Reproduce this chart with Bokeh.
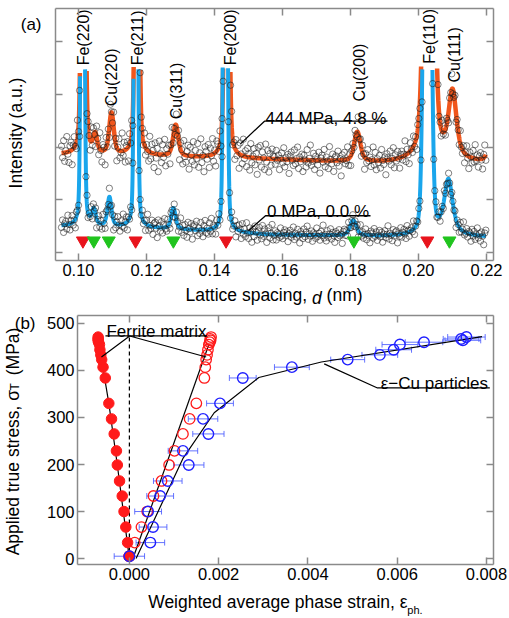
import numpy as np
from bokeh.plotting import figure
from bokeh.models import (LinearAxis, Range1d, FixedTicker, PrintfTickFormatter,
                          Label, ColumnDataSource, Whisker, TeeHead)
from bokeh.embed import file_html
from bokeh.resources import INLINE
from bokeh.core.properties import value

# ======================= DATA : panel (a) =======================
a_xticks = [0.10, 0.12, 0.14, 0.16, 0.18, 0.20, 0.22]
a_yticks = [0, 1, 2, 3, 4]
d_first, d_last = 0.0950, 0.2198          # measured d-range

bg_knot_d = [0.094, 0.115, 0.140, 0.155, 0.190, 0.222]
bg_0MPa   = [0.50, 0.48, 0.40, 0.34, 0.31, 0.29]
bg_444MPa = [1.86, 1.84, 1.79, 1.77, 1.70, 1.70]

# pseudo-Voigt peak parameters of the fitted profiles
pk_c_0   = [0.1012, 0.1045, 0.1091, 0.1169, 0.1279, 0.1432, 0.1808, 0.2026, 0.2088]
pk_h_0   = [16.0, 0.29, 0.55, 16.0, 0.40, 16.0, 0.29, 16.0, 1.05]
pk_f_0   = [0.0009, 0.0014, 0.0014, 0.0009, 0.0016, 0.0010, 0.0022, 0.0019, 0.0030]
pk_eta_0 = [0.2, 0.5, 0.5, 0.2, 0.5, 0.2, 0.5, 0.15, 0.8]

pk_c_444   = [0.1014, 0.1049, 0.1097, 0.1172, 0.1286, 0.1436, 0.1820, 0.2031, 0.2100, 0.2212]
pk_h_444   = [16.0, 0.34, 0.78, 16.0, 0.60, 16.0, 0.56, 16.0, 1.27, 0.40]
pk_f_444   = [0.0010, 0.0014, 0.0016, 0.0010, 0.0018, 0.0011, 0.0022, 0.0024, 0.0028, 0.0020]
pk_eta_444 = [0.25, 0.5, 0.5, 0.25, 0.5, 0.25, 0.5, 0.3, 0.7, 0.5]

# residuals of the measured points from the fits (units of 0.01 a.u.)
res_444 = [12, -8, 21, -15, 3, 27, -4, -19, 9, 14, -26, 6, 18, -2, -11, 30, -7, 4, -22, 16,
           -5, 23, -13, 8, -29, 11, 2, -17, 25, -9, 15, -3, -24, 19, 7, -14, 28, -1, -20, 10,
           5, -27, 17, -6, 13, -18, 22, 1, -10, 26, -16, 9, -23, 4, 20, -12, -3, 31, -8, 14,
           -21, 6, 11, -25, 18, -4, 24, -15, 2, -9, 29, -19, 7, 16, -28, 3, 12, -6, 21, -13,
           8, -2, -17, 27, -11, 15, 5, -24, 19, -7, 10, -30, 23, 1, -14, 17, -5, 26, -20, 9,
           -1, 13, -22, 6, 28, -10, 3, -16, 20, -8, 14, -26, 11, 4, -18, 24, -3, -12, 7, 18,
           -23, 15, 2, -9, 25, -15, 10, -4, 22, -19, 6, 30, -11, 1, -27, 16, 8, -6, 19, -21,
           12, -2, 27, -13, 5, -24, 17, 9, -8, 21, -16, 3, -29, 14, 11, -5, 23, -18, 7, -1,
           26, -10, 4, -20, 18, -7, 13, -25, 20, 2, -14, 29, -4, 10, -17, 15, 6, -22, 24, -9,
           3, 16, -12, 8, -28, 19, -3, 22, -15, 11, 1, -19, 25, -6, 14, -23, 9, -11, 17, 5,
           4, -9, 15, -2, 7, -18, 1, 11, -6, 20, -13, 3, -4, 9, -24, 6, 13, -1, -10, 17,
           -7, 2, 22, -15, 5, -3, 10, -20, 8, 0, -12, 18, -5, 3, 26, -9, -2, 12, -16, 7,
           1, -8, 14, -22, 4, 9, -3, 19, -11, 6, -1, -14, 24, 2, -6, 11, -19, 5, 8, -4,
           16, -10, 3, -27, 9, 1, 13, -7, -2, 21, -12, 6, -17, 4, 10, -5, 15, -1, -9, 28,
           -3, 7, -14, 12, 2, -21, 8, -6, 17, -2, 5, -11, 1, 23, -8, 14, -16, 3, -4, 9,
           -13, 19, 0, -7, 6, -25, 11, 4, -2, 15, -9, 2, 20, -15, 7, -4, 12, -1, -18, 5,
           10, -6, 3, 25, -12, 8, -3, -20, 14, 1, -8, 17, -5, 6, -23, 9, 2, -11, 13, -2,
           -6, 18, -14, 4, 7, -1, -16, 22, -9, 3, 11, -4, -26, 8, 15, -7, 1, -13, 19, -3,
           5, -10, 12, -2, -19, 9, 4, 27, -8, -5, 14, -15, 6, 2, -12, 21, -1, -7, 10, -17,
           3, 16, -4, -21, 8, 1, -9, 13, -6, 24, -3, 7, -14, 5, 11, -2, -18, 6, 20, -10]
res_0 = [-6, 14, -20, 3, 9, -12, 25, -1, -17, 7, 19, -9, 2, -24, 12, 5, -14, 22, -4, 10,
         -19, 1, 16, -7, 28, -13, 6, -2, 20, -22, 11, -5, 15, -27, 4, 18, -10, 8, -15, 24,
         -3, -21, 13, 0, -8, 23, -16, 9, 3, -26, 17, -11, 6, 21, -1, -18, 10, -6, 27, -12,
         4, 15, -23, 8, -4, 19, -14, 2, 26, -9, -17, 12, 7, -25, 14, -2, 22, -8, 5, -19,
         11, 29, -13, 1, -6, 17, -21, 9, 13, -3, -28, 20, 4, -10, 16, -15, 7, 24, -5, -12,
         18, -1, -20, 10, 3, -24, 15, -8, 21, 6, -14, 1, 27, -11, 9, -18, 12, -4, -22, 19,
         2, -7, 16, -26, 8, 13, -3, 23, -16, 5, -10, 20, -1, -19, 11, 25, -9, 4, -13, 17,
         -6, 28, -15, 7, 1, -21, 14, -5, 19, -11, 3, -27, 22, 9, -2, 16, -17, 6, 12, -8,
         24, -14, 0, 18, -23, 10, -4, 15, 5, -20, 21, -7, 8, -12, 26, -1, -16, 13, 2, -25,
         11, -9, 20, 4, -18, 7, 17, -3, -13, 23, -6, 14, 1, -22, 9, 18, -10, 3, 27, -15,
         -3, 10, -15, 5, 1, -8, 18, -4, -11, 6, 13, -2, 8, -19, 3, 12, -7, 0, 21, -13,
         4, -6, 15, -1, -22, 9, 2, -10, 16, -5, 7, 24, -12, 3, -3, 11, -17, 6, 1, -9,
         19, -4, 5, -14, 10, -1, 27, -8, 2, -16, 12, -6, 3, 17, -11, 7, -2, -20, 9, 4,
         -7, 14, -3, 1, -24, 8, 13, -5, 6, -12, 20, -1, -9, 3, 15, -15, 5, -4, 10, -18,
         2, 23, -6, 7, -10, 1, 16, -13, 4, -2, -21, 11, 6, -8, 18, -3, 9, -14, 0, 13,
         -5, 8, -19, 3, 12, -7, 2, 25, -11, 5, -1, -16, 14, -4, 7, 10, -23, 1, -6, 17,
         -9, 4, 11, -2, -15, 19, 6, -12, 3, 8, -5, 22, -18, 1, 9, -3, 14, -10, 5, -26,
         7, 2, -8, 16, -1, -13, 10, 4, -20, 12, -4, 6, 18, -7, -2, 13, -16, 3, 8, -11,
         21, -5, 1, -9, 15, -3, -17, 9, 5, -1, 11, -22, 7, 2, -14, 17, -6, 4, 26, -8,
         -2, 12, -10, 6, 3, -19, 14, -4, 9, -12, 1, 20, -7, 5, -15, 10, -1, -24, 8, 16]

fe_marker_d = [0.1013, 0.1168, 0.1434, 0.2026]
cu_marker_d = [0.1045, 0.1089, 0.1279, 0.1810, 0.2091]

peak_labels  = ["Fe(220)", "Cu(220)", "Fe(211)", "Cu(311)", "Fe(200)", "Cu(200)", "Fe(110)", "Cu(111)"]
peak_label_d = [0.10156, 0.10980, 0.11735, 0.12868, 0.14462, 0.18279, 0.20309, 0.21059]
label_444MPa = "444 MPa, 4.8 %"
label_0MPa = "0 MPa, 0.0 %"

# ======================= DATA : panel (b) =======================
b_xticks = [0.000, 0.002, 0.004, 0.006, 0.008]
b_yticks = [0, 100, 200, 300, 400, 500]
stress = [5, 34, 67, 100, 133, 165, 199, 229, 265, 297, 330, 384, 407, 423, 433, 444, 455, 460, 464, 467, 471]
ferrite_transverse = [-0.00001, -0.00004, -0.00008, -0.00012, -0.00016, -0.00022, -0.00027, -0.00029,
                      -0.00034, -0.00040, -0.00046, -0.00054, -0.00059, -0.00062, -0.00064, -0.00066,
                      -0.00067, -0.00069, -0.00070, -0.00070, -0.00070]
ferrite_axial = [0.00000, 0.00012, 0.00027, 0.00040, 0.00054, 0.00072, 0.00089, 0.00101, 0.00120,
                 0.00135, 0.00150, 0.00168, 0.00170, 0.00172, 0.00174, 0.00176, 0.00178, 0.00180,
                 0.00182, 0.00181, 0.00183]
cu_strain = [0.00000, 0.00047, 0.00053, 0.00042, 0.00069, 0.00086, 0.00133, 0.00120, 0.00177,
             0.00165, 0.00203, 0.00254, 0.00364, 0.00489, 0.00561, 0.00592, 0.00606, 0.00660,
             0.00747, 0.00743, 0.00755]
cu_err = [0.00034, 0.00032, 0.00031, 0.00030, 0.00030, 0.00032, 0.00034, 0.00033, 0.00035,
          0.00033, 0.00030, 0.00030, 0.00039, 0.00038, 0.00040, 0.00040, 0.00040, 0.00042,
          0.00040, 0.00040, 0.00042]
fit_tr_strain = [0.0, -0.00027, -0.00046, -0.00060, -0.00066]
fit_tr_stress = [0, 199, 330, 410, 450]
fit_ax_strain = [0.00008, 0.00178]
fit_ax_stress = [0, 455]
fit_cu_strain = [0.00015, 0.00120, 0.00190, 0.00290, 0.00430, 0.00790]
fit_cu_stress = [0, 213, 310, 385, 418, 472]
zero_strain = 0.0
label_ferrite = "Ferrite matrix"
label_cu = "ε−Cu particles"

# ======================= STYLE / LAYOUT =======================
FONT = "Liberation Sans"
GRAY = "#8a8a8a"
ORANGE = "#F0561C"
SKY = "#1AA6EC"
RED = "#FF1A1A"
BLUE = "#1F1FFF"
NB = "\u00a0"


def ax_(px):   # reference pixel -> data, panel (a)
    return 0.10 + (px - 78) / 3400.0


def ay_(py):
    return (255.0 - py) / 53.3


def bx_(px):   # reference pixel -> data, panel (b)
    return (px - 128) / 44750.0


def by_(py):
    return (561.0 - py) / 0.476


def style_axis(ax, ticks, labels=True, fmt=None, standoff=3):
    ax.ticker = FixedTicker(ticks=ticks)
    ax.axis_line_color = GRAY
    ax.axis_line_width = 1.5
    ax.major_tick_line_color = GRAY
    ax.major_tick_line_width = 1.5
    ax.major_tick_in = 7
    ax.major_tick_out = 0
    ax.minor_tick_line_color = None
    ax.major_label_text_font = FONT
    if labels:
        ax.major_label_text_color = "black"
        ax.major_label_text_font_size = "16.5px"
        ax.major_label_standoff = standoff
        if fmt:
            ax.formatter = PrintfTickFormatter(format=fmt)
    else:
        ax.major_label_text_color = None
        ax.major_label_text_font_size = "0px"
        ax.major_label_standoff = 0


def text_axis(p, side, positions, texts, size, standoff, orientation="horizontal", style="normal"):
    """An axis with no line/ticks used only to print text outside the frame."""
    ticks = [round(float(v), 7) for v in positions]
    ax = LinearAxis(ticker=FixedTicker(ticks=ticks),
                    major_label_overrides={t: s for t, s in zip(ticks, texts)})
    ax.axis_line_color = None
    ax.major_tick_line_color = None
    ax.minor_tick_line_color = None
    ax.major_tick_in = 0
    ax.major_tick_out = 0
    ax.major_label_standoff = standoff
    ax.major_label_text_font = FONT
    ax.major_label_text_font_size = size
    ax.major_label_text_font_style = style
    ax.major_label_text_color = "black"
    ax.major_label_orientation = orientation
    p.add_layout(ax, side)


def txt(p, x, y, s, size="17px"):
    p.add_layout(Label(x=x, y=y, text=s, text_font=FONT, text_font_size=size,
                       text_align="left", text_baseline="alphabetic", text_color="black"))


def pv_sum(x, cs, hs, fs, es):
    y = np.zeros_like(x)
    for c, h, f, e in zip(cs, hs, fs, es):
        q = (x - c) ** 2 / f ** 2
        y += h * (e / (1 + 4 * q) + (1 - e) * np.exp(-4 * np.log(2) * q))
    return y


CLIP = ay_(65)

# ---------------- panel (a) ----------------
pa = figure(width=509, height=310, x_range=Range1d(ax_(55), ax_(493)),
            y_range=Range1d(ay_(263), ay_(8)), output_backend="svg",
            toolbar_location=None, min_border_left=55, min_border_right=16,
            min_border_top=8, min_border_bottom=48)
pa.grid.visible = False
pa.outline_line_color = None
style_axis(pa.xaxis[0], a_xticks, True, "%.2f", standoff=3)
style_axis(pa.yaxis[0], a_yticks, False)
top_a = LinearAxis()
style_axis(top_a, a_xticks, False)
pa.add_layout(top_a, "above")
right_a = LinearAxis()
style_axis(right_a, a_yticks, False)
pa.add_layout(right_a, "right")

xc = np.linspace(d_first, d_last, 4000)
for bg, cs, hs, fs, es, col, lw in [
        (bg_444MPa, pk_c_444, pk_h_444, pk_f_444, pk_eta_444, ORANGE, 4.5),
        (bg_0MPa, pk_c_0, pk_h_0, pk_f_0, pk_eta_0, SKY, 4.0)]:
    yc = np.interp(xc, bg_knot_d, bg) + pv_sum(xc, cs, hs, fs, es)
    yc = np.where(yc > CLIP, np.nan, yc)
    pa.line(xc, yc, line_color=col, line_width=lw)

for bg, cs, hs, fs, es, res, sc in [
        (bg_444MPa, pk_c_444, pk_h_444, pk_f_444, pk_eta_444, res_444, 0.011),
        (bg_0MPa, pk_c_0, pk_h_0, pk_f_0, pk_eta_0, res_0, 0.007)]:
    xo = np.linspace(d_first, d_last, len(res))
    yo = np.interp(xo, bg_knot_d, bg) + pv_sum(xo, cs, hs, fs, es) + np.array(res) * sc
    m = yo < CLIP
    pa.scatter(xo[m], yo[m], marker="circle", size=6.3, fill_color=None,
               line_color="#1a1a1a", line_alpha=0.62, line_width=0.9)

pa.scatter(fe_marker_d, [ay_(243)] * len(fe_marker_d), marker="inverted_triangle",
           size=13, fill_color="#E8141C", line_color="#E8141C")
pa.scatter(cu_marker_d, [ay_(243)] * len(cu_marker_d), marker="inverted_triangle",
           size=13, fill_color="#20C41E", line_color="#20C41E")

label_bottom_px = [65.5, 107, 65.5, 120, 65.5, 102, 64, 83]
pa.text(x=peak_label_d, y=[ay_(v) for v in label_bottom_px], text=peak_labels,
        angle=np.pi / 2, text_align="left", text_baseline="middle",
        text_font=value(FONT), text_font_size="16px", text_color="black")

pa.line([ax_(240), ax_(264), ax_(387)], [ay_(145), ay_(122), ay_(122)], line_color="black", line_width=1.3)
txt(pa, ax_(265), ay_(119), label_444MPa)
pa.line([ax_(248), ax_(265), ax_(370)], [ay_(233), ay_(217.7), ay_(217.7)], line_color="black", line_width=1.3)
txt(pa, ax_(266.5), ay_(213.5), label_0MPa)

# texts outside the frame of (a)
text_axis(pa, "left", [ay_(24)], ["(a)"], "17px", 14)
text_axis(pa, "left", [ay_(134)], ["Intensity (a.u.)"], "17.5px", -9, orientation="vertical")
text_axis(pa, "below", [ax_(245.8), ax_(344.1)], ["Lattice spacing,", "(nm)"], "17.5px", 6)
text_axis(pa, "below", [ax_(316.4)], ["d"], "17.5px", -20, style="italic")

# ---------------- panel (b) ----------------
pb = figure(width=509, height=308, x_range=Range1d(bx_(76), bx_(493)),
            y_range=Range1d(by_(567), by_(315)), output_backend="svg",
            toolbar_location=None, min_border_left=76, min_border_right=16,
            min_border_top=5, min_border_bottom=51)
pb.grid.visible = False
pb.outline_line_color = None
style_axis(pb.xaxis[0], b_xticks, True, "%.3f", standoff=3)
style_axis(pb.yaxis[0], b_yticks, True, "%d", standoff=3)
top_b = LinearAxis()
style_axis(top_b, b_xticks, False)
pb.add_layout(top_b, "above")
right_b = LinearAxis()
style_axis(right_b, b_yticks, False)
pb.add_layout(right_b, "right")

pb.line([zero_strain, zero_strain], [0, max(stress)], line_color="black", line_width=1.2, line_dash="4 3")

pb.line(fit_tr_strain, fit_tr_stress, line_color="black", line_width=1.2)
pb.line(fit_ax_strain, fit_ax_stress, line_color="black", line_width=1.2)
pb.line(fit_cu_strain, fit_cu_stress, line_color="black", line_width=1.2)

cu = np.array(cu_strain)
er = np.array(cu_err)
src_cu = ColumnDataSource(dict(x=cu, y=stress, lo=cu - er, hi=cu + er))
pb.add_layout(Whisker(source=src_cu, base="y", lower="lo", upper="hi", dimension="width",
                      line_color="#4a5cff", line_width=1, line_alpha=0.85,
                      upper_head=TeeHead(size=6, line_color="#4a5cff", line_width=1, line_alpha=0.85),
                      lower_head=TeeHead(size=6, line_color="#4a5cff", line_width=1, line_alpha=0.85)))

pb.scatter(ferrite_transverse, stress, marker="circle", size=10.5, fill_color=RED, line_color=RED)
pb.scatter(ferrite_axial, stress, marker="circle", size=10.5, fill_color=None, line_color=RED, line_width=1.3)
pb.scatter(cu_strain, stress, marker="circle", size=10.5, fill_color=None, line_color=BLUE, line_width=1.4)

txt(pb, bx_(105), by_(331.5), label_ferrite)
pb.line([bx_(104), bx_(206)], [by_(335.7), by_(335.7)], line_color="black", line_width=1.2)
pb.line([bx_(100), bx_(128.3), bx_(205)], [by_(357), by_(335.7), by_(357)], line_color="black", line_width=1.2)
txt(pb, bx_(380), by_(384), label_cu)
pb.line([bx_(323.3), bx_(376.7), bx_(489.3)], [by_(364), by_(388.3), by_(388.3)], line_color="black", line_width=1.2)

# texts outside the frame of (b)
text_axis(pb, "left", [by_(315.6)], ["(b)"], "17px", 8)
text_axis(pb, "left", [by_(442.5)], ["Applied true stress, σ" + NB * 3 + "(MPa)"], "17.5px", -12,
          orientation="vertical")
text_axis(pb, "left", [by_(387.3)], ["T"], "12px", -22, orientation="vertical")
text_axis(pb, "below", [bx_(276.9)], ["Weighted average phase strain, ε"], "17.5px", 9)
text_axis(pb, "below", [bx_(414.3)], ["ph."], "11px", -11)

open("out.html", "w").write(file_html([pa, pb], INLINE))
